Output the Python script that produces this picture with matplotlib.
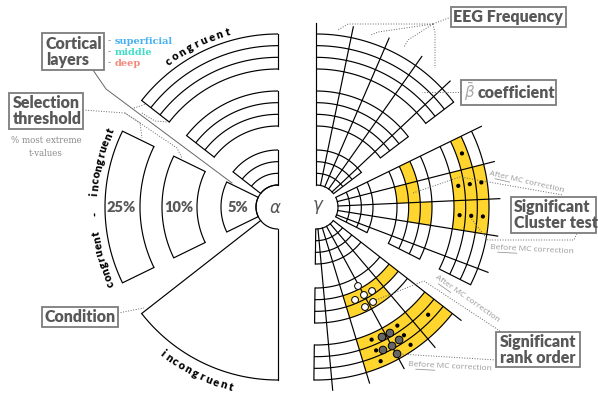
import numpy as np
import matplotlib.pyplot as plt
from matplotlib.patches import Rectangle, Circle

# Geometria general (unidades = pixeles de la figura)
CentroAlpha = (278, 207)
CentroGamma = (316, 207)
RadioHueco = 22
RadioPuntas = 184

Bandas = [(22, 57), (81, 116), (138, 173)]      # 5%, 10%, 25%
Umbrales = ['5%', '10%', '25%']
NAnillos = 3

SectoresIzq = [(90, 142), (154, 206), (218, 270)]   # congruent, congr-incongr, incongruent
InicioDer = [90, 26, -38]
AnchoCelda = 11.7
NCeldas = 4
MediaCelda = 5.9

# celdas amarillas: (sector, banda, anillo, celda)
CeldasAmarillas = [
    (1, 1, 1, 0), (1, 1, 0, 1), (1, 1, 1, 1), (1, 1, 1, 2), (1, 1, 2, 2),
    (1, 2, 1, 0), (1, 2, 0, 1), (1, 2, 1, 1), (1, 2, 2, 1), (1, 2, 0, 2), (1, 2, 1, 2), (1, 2, 2, 2),
    (2, 1, 1, 0), (2, 1, 1, 1), (2, 1, 2, 1), (2, 1, 1, 2), (2, 1, 2, 2),
    (2, 2, 0, 0), (2, 2, 1, 0), (2, 2, 2, 0), (2, 2, 0, 1), (2, 2, 1, 1), (2, 2, 2, 1),
    (2, 2, 0, 2), (2, 2, 1, 2), (2, 2, 2, 2),
]
# puntos negros en la banda externa: (sector, anillo, celda)
PuntosNegros = [
    (1, 1, 0), (1, 0, 1), (1, 1, 1), (1, 2, 1), (1, 0, 2), (1, 1, 2), (1, 2, 2),
    (2, 1, 0), (2, 0, 1), (2, 1, 1), (2, 2, 1), (2, 0, 2), (2, 1, 2), (2, 2, 2),
]
# circulos (angulo, radio)
CirculosGrises = [(-63.1, 145.8), (-59.6, 146.1), (-58.0, 156.8), (-61.3, 158.4), (-64.9, 157.9), (-61.1, 167.8)]
CirculosBlancos = [(-62.0, 89.5), (-61.4, 100.2), (-56.3, 101.0), (-67.2, 100.8), (-63.9, 111.4), (-59.0, 110.8)]

Capas = ['superficial', 'middle', 'deep']
ColoresCapas = ['#45b0f2', '#3fdccb', '#f3877a']

Amarillo = '#FFD52E'
Gris = '#585858'
lw = 0.85


def pol(c, r, a):
    a = np.radians(a)
    return c[0] + r * np.cos(a), c[1] - r * np.sin(a)


def arco(c, r, a0, a1, **kw):
    t = np.linspace(a0, a1, 80)
    x, y = pol(c, r, t)
    ax.plot(x, y, color='k', lw=lw, solid_capstyle='butt', **kw)


def radial(c, r0, r1, a, **kw):
    x0, y0 = pol(c, r0, a)
    x1, y1 = pol(c, r1, a)
    ax.plot([x0, x1], [y0, y1], color='k', lw=lw, **kw)


def celda(c, r0, r1, a0, a1, color):
    t = np.linspace(a0, a1, 30)
    xo, yo = pol(c, r1, t)
    xi, yi = pol(c, r0, t[::-1])
    ax.fill(np.r_[xo, xi], np.r_[yo, yi], color=color, lw=0, zorder=0)


def texto_arco(c, r, a_centro, texto, paso, sentido, **kw):
    n = len(texto)
    for i, ch in enumerate(texto):
        a = a_centro - sentido * (i - (n - 1) / 2) * paso
        x, y = pol(c, r, a)
        rot = a - 90 if sentido > 0 else a + 90
        ax.text(x, y, ch, rotation=rot, ha='center', va='center', rotation_mode='anchor', **kw)


def caja(x0, y0, x1, y1):
    ax.add_patch(Rectangle((x0, y0), x1 - x0, y1 - y0, fc='white', ec='#7d7d7d', lw=1.3, zorder=3))


def guia(xs, ys, ls=':'):
    ax.plot(xs, ys, color='#666666', lw=0.7, ls=ls, zorder=2)


def nota_mc(x, y, palabra, rot, ancho=64):
    # texto pequeño "After/Before MC correction" con la primera palabra subrayada
    ax.text(x, y, palabra + ' MC correction', ha='center', va='center', fontsize=6, color='#9a9a9a',
            rotation=rot, rotation_mode='anchor', family='Open Sans')
    largo = 15 if palabra == 'After' else 19
    t = np.radians(rot)
    ux, uy = np.cos(t), -np.sin(t)
    nx, ny = np.sin(t), np.cos(t)
    s0 = -ancho / 2
    xs = [x + s0 * ux + 4 * nx, x + (s0 + largo) * ux + 4 * nx]
    ys = [y + s0 * uy + 4 * ny, y + (s0 + largo) * uy + 4 * ny]
    ax.plot(xs, ys, color='#9a9a9a', lw=0.6)


fig = plt.figure(figsize=(5.98, 3.94), dpi=100)
ax = fig.add_axes([0, 0, 1, 1])
ax.set_xlim(0, 598)
ax.set_ylim(394, 0)
ax.axis('off')

fuente = 'Lato'
peso = 'heavy'

# ---------------- Mitad izquierda (alpha) ----------------
a0, a1 = SectoresIzq[0]
for r0, r1 in Bandas:
    for r in np.linspace(r0, r1, NAnillos + 1):
        arco(CentroAlpha, r, a0, a1)
    radial(CentroAlpha, r0, r1, a0)
    radial(CentroAlpha, r0, r1, a1)

a0, a1 = SectoresIzq[1]
for (r0, r1), txt in zip(Bandas, Umbrales):
    arco(CentroAlpha, r0, a0, a1)
    arco(CentroAlpha, r1, a0, a1)
    radial(CentroAlpha, r0, r1, a0)
    radial(CentroAlpha, r0, r1, a1)
    x, y = pol(CentroAlpha, (r0 + r1) / 2 + 1, 180)
    ax.text(x, y, txt, ha='center', va='center', fontsize=10.5, fontweight=peso, color=Gris, family=fuente)

a0, a1 = SectoresIzq[2]
arco(CentroAlpha, Bandas[2][1], a0, a1)
radial(CentroAlpha, RadioHueco, Bandas[2][1], a0)
radial(CentroAlpha, RadioHueco, Bandas[2][1], a1)
arco(CentroAlpha, RadioHueco, 90, 270)

ax.text(CentroAlpha[0] - 3, CentroAlpha[1] + 1, r'$\alpha$', ha='center', va='center', fontsize=12, color='#555555')

texto_arco(CentroAlpha, 182, 116.5, 'congruent', 2.6, 1, fontsize=8, fontweight=peso, family=fuente)
texto_arco(CentroAlpha, 184, 180, 'congruent  -  incongruent', 2.05, 1, fontsize=8, fontweight=peso, family=fuente)
texto_arco(CentroAlpha, 186, 243.5, 'incongruent', 2.35, -1, fontsize=8, fontweight=peso, family=fuente)

# ---------------- Mitad derecha (gamma) ----------------
for s, ai in enumerate(InicioDer):
    angs = ai - AnchoCelda * np.arange(NCeldas + 1)
    af = ai - AnchoCelda * NCeldas - MediaCelda
    for a in angs:
        radial(CentroGamma, RadioHueco, RadioPuntas, a)
    for r0, r1 in Bandas:
        for r in np.linspace(r0, r1, NAnillos + 1):
            arco(CentroGamma, r, ai, af)
        radial(CentroGamma, r0, r1, af)

for s, b, k, c in CeldasAmarillas:
    r0, r1 = Bandas[b]
    w = (r1 - r0) / NAnillos
    a0 = InicioDer[s] - AnchoCelda * c
    celda(CentroGamma, r0 + k * w, r0 + (k + 1) * w, a0, a0 - AnchoCelda, Amarillo)

for s, k, c in PuntosNegros:
    r0, r1 = Bandas[2]
    w = (r1 - r0) / NAnillos
    a = InicioDer[s] - AnchoCelda * (c + 0.5)
    ax.add_patch(Circle(pol(CentroGamma, r0 + (k + 0.5) * w, a), 1.4, color='k', zorder=4))

for a, r in CirculosGrises:
    ax.add_patch(Circle(pol(CentroGamma, r, a), 3.8, fc='#666666', ec='k', lw=0.7, zorder=5))
for a, r in CirculosBlancos:
    ax.add_patch(Circle(pol(CentroGamma, r, a), 3.4, fc='white', ec='k', lw=0.7, zorder=5))

ax.text(CentroGamma[0] + 2, CentroGamma[1], r'$\gamma$', ha='center', va='center', fontsize=12, color='#555555')

# ---------------- Etiquetas izquierda ----------------
caja(42, 33, 104, 70)
ax.text(46, 52, 'Cortical\nlayers', ha='left', va='center', fontsize=11.5, fontweight=peso,
        color=Gris, family=fuente, linespacing=0.95, zorder=4)
for i, (capa, col) in enumerate(zip(Capas, ColoresCapas)):
    ax.text(108, 41 + 11 * i, '-', ha='left', va='center', fontsize=7, color='#888888', family='DejaVu Serif')
    ax.text(115, 41 + 11 * i, capa, ha='left', va='center', fontsize=7, fontweight='bold', color=col,
            family='DejaVu Serif')

caja(9, 93, 83, 129)
ax.text(13, 111, 'Selection\nthreshold', ha='left', va='center', fontsize=11.5, fontweight=peso,
        color=Gris, family=fuente, linespacing=0.95, zorder=4)
ax.text(46, 147, '% most extreme\nt-values', ha='center', va='center', fontsize=6.2, color='#8a8a8a',
        family='DejaVu Serif', linespacing=1.5)

caja(42, 307, 118, 327)
ax.text(80, 317, 'Condition', ha='center', va='center', fontsize=11.5, fontweight=peso,
        color=Gris, family=fuente, zorder=4)

guia([93, 106, 232], [70, 89, 183], ls='-')
guia([83, 125, 140, 142], [110, 113, 123, 138])
guia([125, 177, 182], [113, 148, 158])
guia([134, 146], [108, 104])
guia([142, 155, 167], [113, 121, 122])
guia([118, 144], [313, 308])

# ---------------- Etiquetas derecha ----------------
caja(451, 7, 566, 27)
ax.text(508, 17, 'EEG Frequency', ha='center', va='center', fontsize=11.5, fontweight=peso,
        color=Gris, family=fuente, zorder=4)
guia([451, 433], [17, 24])
guia([433, 348, 338], [24, 24, 30])
guia([433, 378, 371], [24, 32, 35])
guia([433, 408, 404], [24, 40, 47])
guia([433, 435, 435], [24, 33, 68])

caja(461, 80, 556, 105)
ax.text(470, 92, r'$\bar{\beta}$', ha='center', va='center', fontsize=11, color='#aaaaaa', zorder=4)
ax.text(516, 93, 'coefficient', ha='center', va='center', fontsize=11.5, fontweight=peso,
        color=Gris, family=fuente, zorder=4)
guia([461, 422], [92, 92])

caja(511, 197, 596, 233)
ax.text(514, 215, 'Significant\nCluster test', ha='left', va='center', fontsize=11.5, fontweight=peso,
        color=Gris, family=fuente, linespacing=0.95, zorder=4)
guia([413, 460, 563], [193, 177, 195])
nota_mc(527, 182, 'After', -13)
guia([470, 488, 574, 577], [217, 240, 240, 233])
nota_mc(532, 250, 'Before', -3, ancho=68)

caja(496, 332, 580, 367)
ax.text(500, 350, 'Significant\nrank order', ha='left', va='center', fontsize=11.5, fontweight=peso,
        color=Gris, family=fuente, linespacing=0.95, zorder=4)
guia([376, 424, 500], [300, 281, 331])
nota_mc(467, 299, 'After', -35)
guia([400, 496], [354, 360])
nota_mc(450, 367, 'Before', -3, ancho=68)

fig.savefig('out.png', dpi=100)
